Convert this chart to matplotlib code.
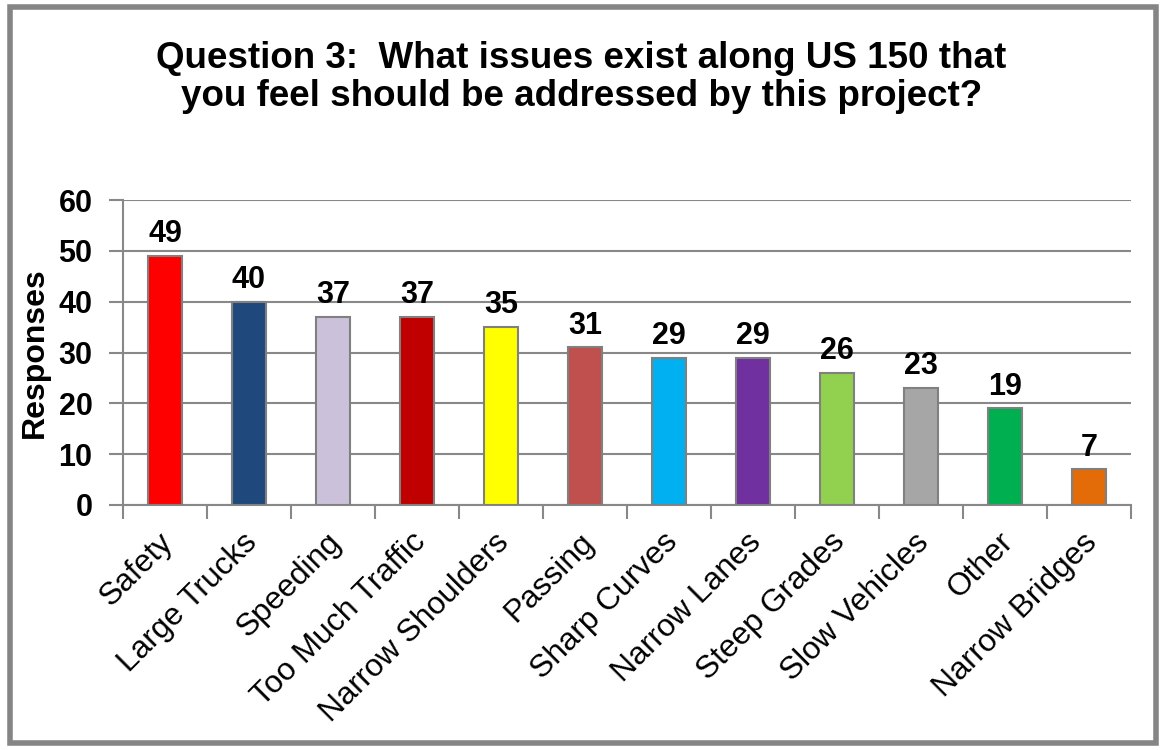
import matplotlib
matplotlib.use("Agg")
from matplotlib import pyplot as plt
from matplotlib.patches import Rectangle
import numpy as np

plt.rcParams['font.family'] = ['Liberation Sans', 'DejaVu Sans']

# Data
issues = ['Safety', 'Large Trucks', 'Speeding', 'Too Much Traffic', 'Narrow Shoulders',
          'Passing', 'Sharp Curves', 'Narrow Lanes', 'Steep Grades', 'Slow Vehicles',
          'Other', 'Narrow Bridges']
responses = [49, 40, 37, 37, 35, 31, 29, 29, 26, 23, 19, 7]
colors = ['#FF0000', '#1F497D', '#CCC1DA', '#C00000', '#FFFF00', '#C0504D',
          '#00B0F0', '#7030A0', '#92D050', '#A6A6A6', '#00B050', '#E36C09']

fig = plt.figure(figsize=(11.63, 7.5), dpi=100)

# outer frame
fig.patches.append(Rectangle((10 / 1163, 7 / 750), 1146 / 1163, 736 / 750,
                             transform=fig.transFigure, fill=False,
                             edgecolor='#858585', linewidth=4))

ax = fig.add_axes([123 / 1163, 245 / 750, 1008 / 1163, 305 / 750])
x = np.arange(len(issues))
bars = ax.bar(x, responses, width=0.4, color=colors, edgecolor='#808080', linewidth=1.5, zorder=3)

for xi, v in zip(x, responses):
    ax.text(xi, v + 1.3, str(v), ha='center', va='bottom', fontsize=22, fontweight='bold')

ax.set_xlim(-0.5, len(issues) - 0.5)
ax.set_ylim(0, 60)
ax.set_yticks(range(0, 61, 10))
ax.set_yticklabels([str(t) for t in range(0, 61, 10)], fontsize=22, fontweight='bold')
ax.yaxis.grid(True, color='#888888', linewidth=1.5, zorder=0)
ax.tick_params(axis='y', length=10, width=1.5, color='#888888', pad=12)

ax.set_xticks(x - 0.08)
ax.set_xticklabels(issues, rotation=45, ha='right', rotation_mode='anchor', fontsize=22.8)
ax.set_xticks(np.arange(-0.5, len(issues) + 0.5, 1), minor=True)
ax.tick_params(axis='x', which='major', length=0, pad=16)
ax.tick_params(axis='x', which='minor', length=10, width=1.5, color='#888888')

for side in ['top', 'right']:
    ax.spines[side].set_visible(False)
for side in ['left', 'bottom']:
    ax.spines[side].set_color('#888888')
    ax.spines[side].set_linewidth(1.5)

ax.set_ylabel('Responses', fontsize=23, fontweight='bold', labelpad=6)

fig.text(0.5, 0.897, 'Question 3:  What issues exist along US 150 that\nyou feel should be addressed by this project?',
         ha='center', va='center', fontsize=26.5, fontweight='bold', linespacing=1.12)

fig.savefig('out.png', dpi=100)
